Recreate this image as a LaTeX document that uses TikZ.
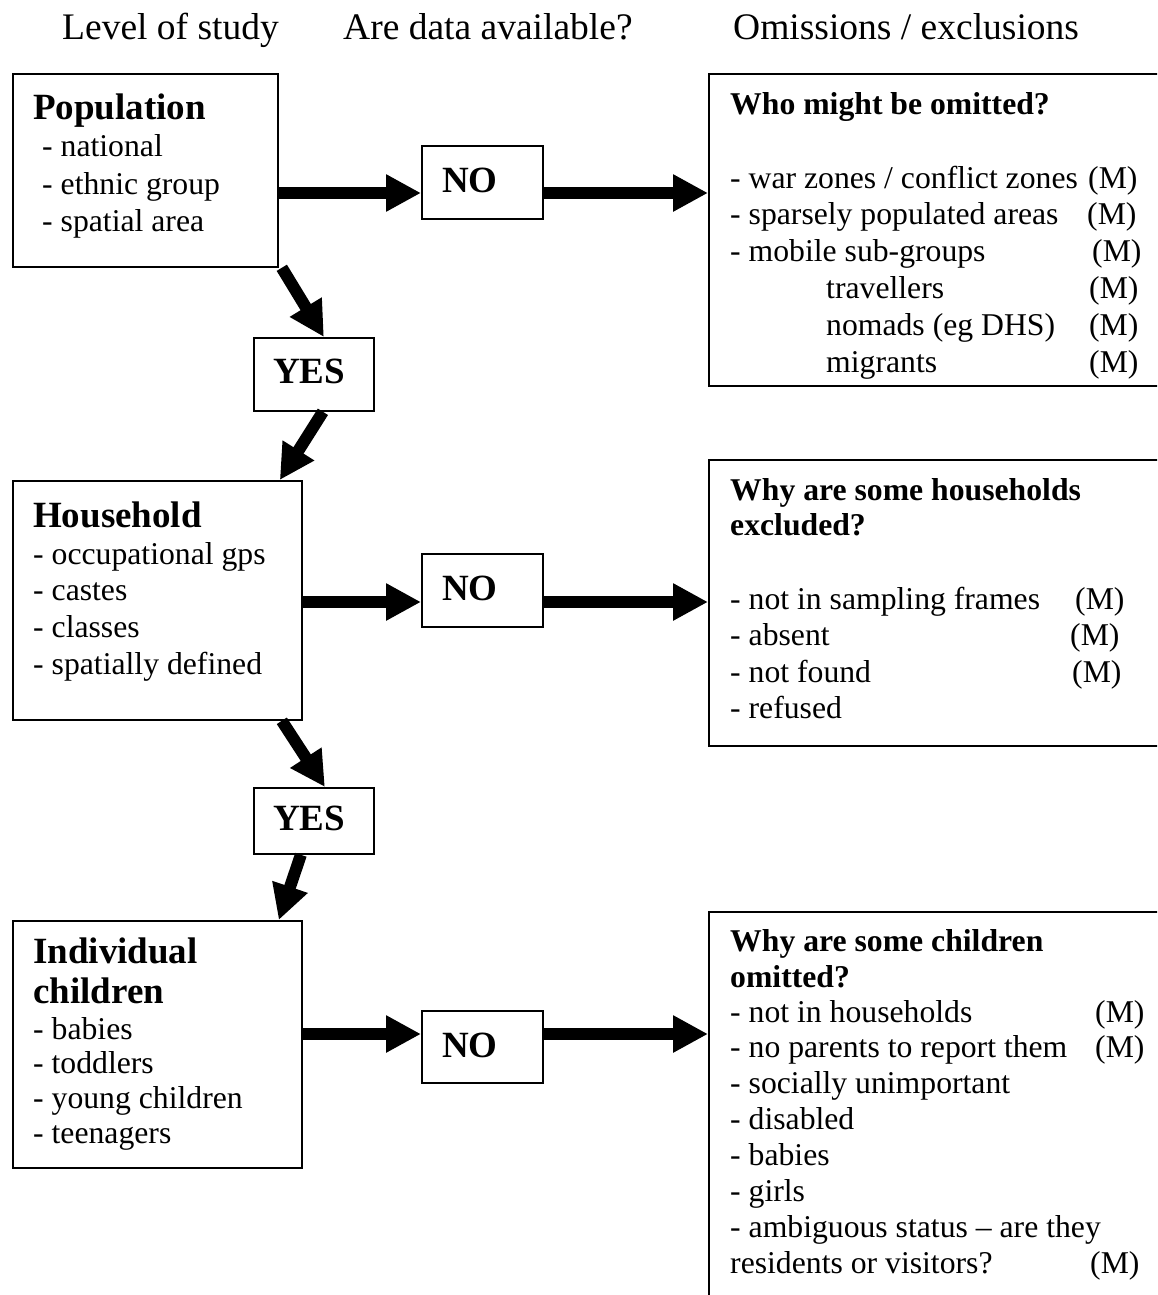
\documentclass[tikz,border=0pt]{standalone}
\usepackage{fontspec}
\setmainfont{Liberation Serif}
\usetikzlibrary{arrows.meta}
\newcommand\bodyf{\fontsize{31.7pt}{36.5pt}\selectfont}
\newcommand\rhdf{\fontsize{31.7pt}{36.5pt}\selectfont\bfseries}
\newcommand\bigbf{\fontsize{37pt}{40pt}\selectfont\bfseries}
\newcommand\hdrf{\fontsize{37.5pt}{40pt}\selectfont}
\newcommand\stk[2]{\vtop{\baselineskip=#1pt\lineskiplimit=-200pt\lineskip=0pt #2}}
\newcommand\mline[2]{\hbox{\makebox[#1pt][l]{#2}(M)}}
\begin{document}
\begin{tikzpicture}[x=1pt,y=-1pt,
  box/.style={draw, line width=1.8pt, inner sep=0pt, anchor=north west},
  txt/.style={inner sep=0pt, anchor=base west, font=\bodyf},
  hdr/.style={inner sep=0pt, anchor=base west, font=\hdrf},
  bigarrow/.style={line width=12pt, -{Triangle[length=35pt,width=35pt]}}]
\useasboundingbox (0,0) rectangle (1157,1295);
\clip (0,0) rectangle (1157,1295);
\fill[white] (0,0) rectangle (1157,1295);

% column headers
\node[hdr] (h1) at (62,40) {Level of study};
\node[hdr] (h2) at (343,40) {Are data available?};
\node[hdr] (h3) at (733,40) {Omissions / exclusions};

% left boxes
\node[box, minimum width=265pt, minimum height=193pt] (pop) at (12,73) {};
\node[txt, font=\bigbf] (popT) at (33,120) {Population};
\node[txt] (popL) at (42,157) {\stk{37}{\hbox{- national}\hbox{- ethnic group}\hbox{- spatial area}}};

\node[box, minimum width=289pt, minimum height=239pt] (hh) at (12,480) {};
\node[txt, font=\bigbf] (hhT) at (33,527) {Household};
\node[txt] (hhL) at (33,564) {\stk{36.7}{\hbox{- occupational gps}\hbox{- castes}\hbox{- classes}\hbox{- spatially defined}}};

\node[box, minimum width=289pt, minimum height=247pt] (ind) at (12,920) {};
\node[txt, font=\bigbf] (indT) at (33,963) {\stk{40}{\hbox{Individual}\hbox{children}}};
\node[txt] (indL) at (33,1039) {\stk{34.8}{\hbox{- babies}\hbox{- toddlers}\hbox{- young children}\hbox{- teenagers}}};

% YES boxes
\node[box, minimum width=120pt, minimum height=73pt] (yes1) at (253,337) {};
\node[txt, font=\bigbf] (yes1T) at (273,383) {YES};
\node[box, minimum width=120pt, minimum height=66pt] (yes2) at (253,787) {};
\node[txt, font=\bigbf] (yes2T) at (273,830) {YES};

% NO boxes
\node[box, minimum width=121pt, minimum height=73pt] (no1) at (421,145) {};
\node[txt, font=\bigbf] (no1T) at (442,192) {NO};
\node[box, minimum width=121pt, minimum height=73pt] (no2) at (421,553) {};
\node[txt, font=\bigbf] (no2T) at (442,600) {NO};
\node[box, minimum width=121pt, minimum height=72pt] (no3) at (421,1010) {};
\node[txt, font=\bigbf] (no3T) at (442,1057) {NO};

% right boxes
\node[box, minimum width=520pt, minimum height=312pt] (om1) at (708,73) {};
\node[txt, font=\rhdf] (om1T) at (730,115) {Who might be omitted?};
\node[txt] (om1L) at (730,188) {\stk{36.8}{%
  \mline{358}{- war zones / conflict zones}%
  \mline{357}{- sparsely populated areas}%
  \mline{362}{- mobile sub-groups}%
  \mline{359}{\hspace*{96pt}travellers}%
  \mline{359}{\hspace*{96pt}nomads (eg DHS)}%
  \mline{359}{\hspace*{96pt}migrants}}};

\node[box, minimum width=520pt, minimum height=286pt] (om2) at (708,459) {};
\node[txt, font=\rhdf] (om2T) at (730,500) {\stk{35}{\hbox{Why are some households}\hbox{excluded?}}};
\node[txt] (om2L) at (730,609) {\stk{36.6}{%
  \mline{345}{- not in sampling frames}%
  \mline{340}{- absent}%
  \mline{342}{- not found}%
  \hbox{- refused}}};

\node[box, minimum width=520pt, minimum height=440pt] (om3) at (708,911) {};
\node[txt, font=\rhdf] (om3T) at (730,951) {\stk{36}{\hbox{Why are some children}\hbox{omitted?}}};
\node[txt] (om3L) at (730,1022) {\stk{35.9}{%
  \mline{365}{- not in households}%
  \mline{365}{- no parents to report them}%
  \hbox{- socially unimportant}%
  \hbox{- disabled}%
  \hbox{- babies}%
  \hbox{- girls}%
  \hbox{- ambiguous status – are they}%
  \mline{360}{residents or visitors?}}};

% connectors
\coordinate (r1) at (0,193);
\coordinate (r2) at (0,602);
\coordinate (r3) at (0,1034);
\draw[bigarrow] (pop.east |- r1) -- (no1.west |- r1);
\draw[bigarrow] (no1.east |- r1) -- (om1.west |- r1);
\draw[bigarrow] (hh.east |- r2) -- (no2.west |- r2);
\draw[bigarrow] (no2.east |- r2) -- (om2.west |- r2);
\draw[bigarrow] (ind.east |- r3) -- (no3.west |- r3);
\draw[bigarrow] (no3.east |- r3) -- (om3.west |- r3);

\draw[bigarrow] ([xshift=3pt]pop.south east) -- ([xshift=10pt]yes1.north);
\draw[bigarrow] ([xshift=9pt]yes1.south) -- ([xshift=-23pt]hh.north east);
\draw[bigarrow] ([xshift=-21pt]hh.south east) -- ([xshift=11pt]yes2.north);
\draw[bigarrow] ([xshift=-13pt]yes2.south) -- ([xshift=-24pt]ind.north east);
\end{tikzpicture}
\end{document}
